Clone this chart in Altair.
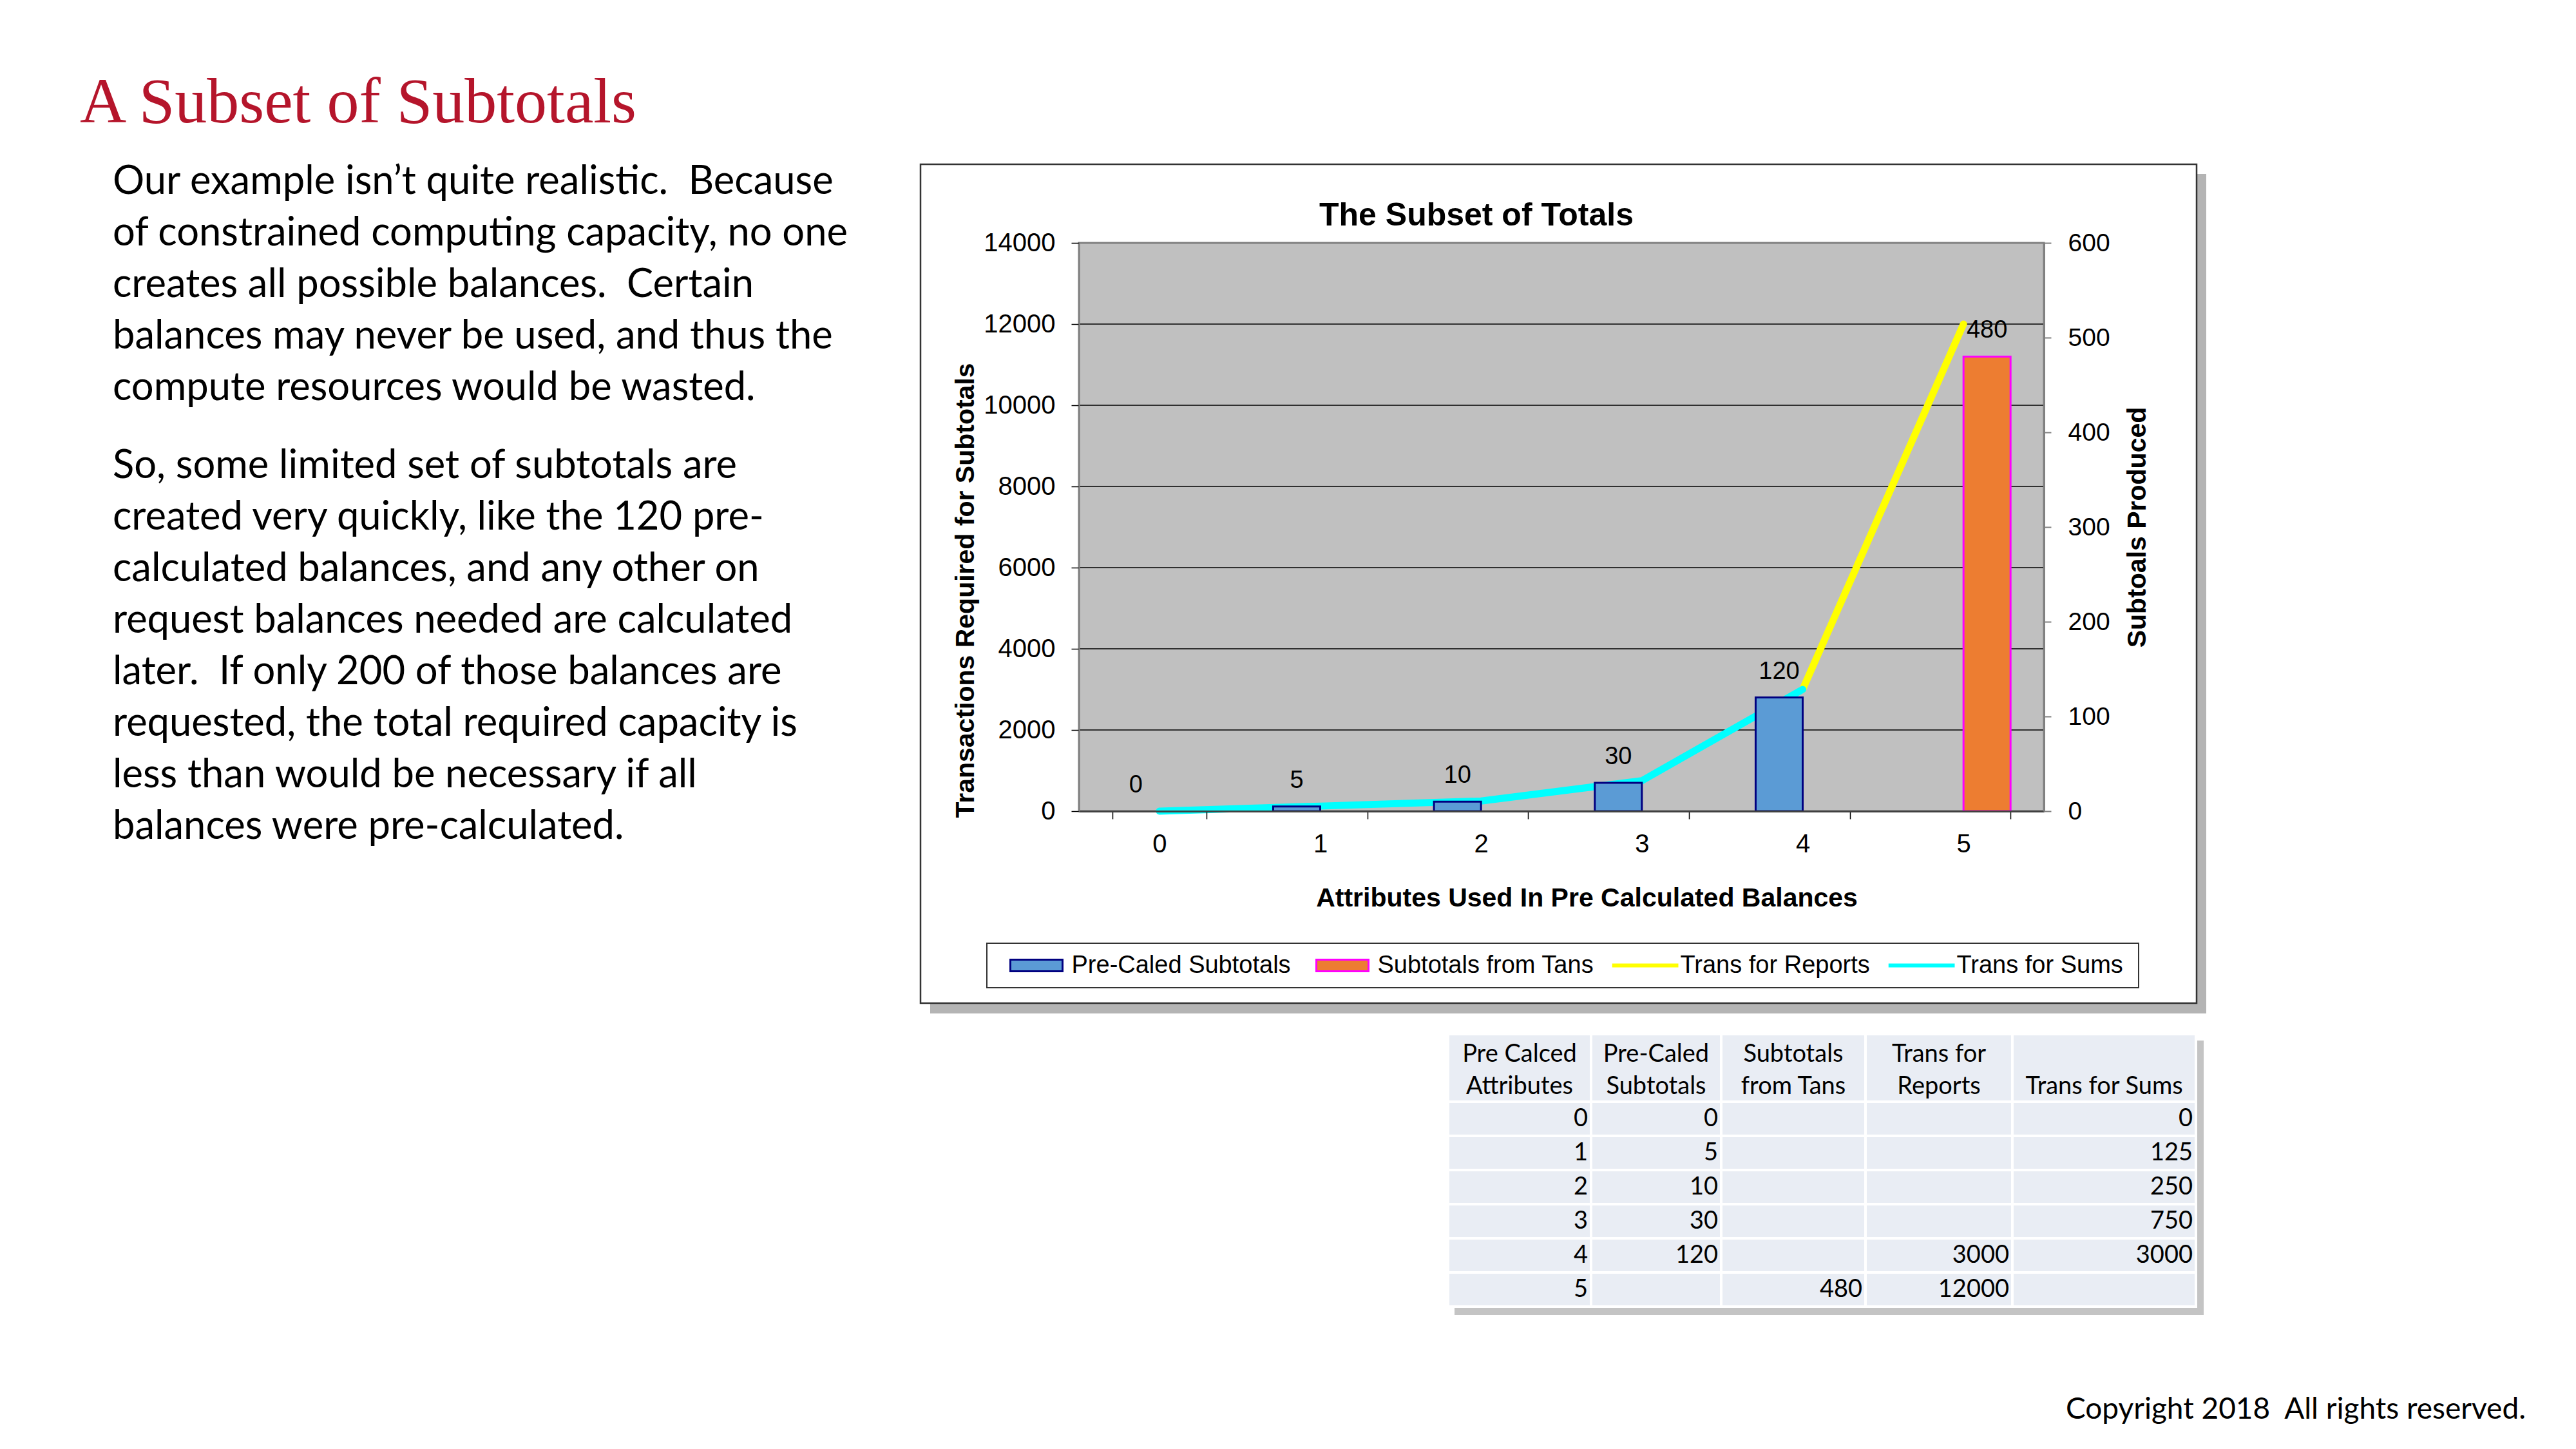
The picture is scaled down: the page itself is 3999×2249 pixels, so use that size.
import altair as alt
import pandas as pd

ARIAL = "Liberation Sans"
BODY = "Lato"
SERIF = "Liberation Serif"

# ---------------- data ----------------
categories = [0, 1, 2, 3, 4, 5]
pre_caled_subtotals = [0, 5, 10, 30, 120, None]
subtotals_from_tans = [None, None, None, None, None, 480]
trans_for_reports = [None, None, None, None, 3000, 12000]
trans_for_sums = [0, 125, 250, 750, 3000, None]

series_names = ["Pre-Caled Subtotals", "Subtotals from Tans", "Trans for Reports", "Trans for Sums"]
fill_colors = ["#5B9BD5", "#ED7D31", "#FFFF00", "#00FFFF"]
stroke_colors = ["#000080", "#FF00FF", "#FFFF00", "#00FFFF"]

left_ticks = [0, 2000, 4000, 6000, 8000, 10000, 12000, 14000]
right_ticks = [0, 100, 200, 300, 400, 500, 600]

table_headers = ["Pre Calced\nAttributes", "Pre-Caled\nSubtotals", "Subtotals\nfrom Tans",
                 "Trans for\nReports", "\nTrans for Sums"]
table_columns = [categories, pre_caled_subtotals, subtotals_from_tans, trans_for_reports, trans_for_sums]

slide_title = "A Subset of Subtotals"
chart_title = "The Subset of Totals"
para1 = ["Our example isn\u2019t quite realistic.\u00a0 Because",
         "of constrained computing capacity, no one",
         "creates all possible balances.\u00a0 Certain",
         "balances may never be used, and thus the",
         "compute resources would be wasted."]
para2 = ["So, some limited set of subtotals are",
         "created very quickly, like the 120 pre-",
         "calculated balances, and any other on",
         "request balances needed are calculated",
         "later.\u00a0 If only 200 of those balances are",
         "requested, the total required capacity is",
         "less than would be necessary if all",
         "balances were pre-calculated."]
copyright_text = "Copyright 2018\u00a0 All rights reserved."


def long_rows(name, values):
    return [{"cat": c, "series": name, "value": v}
            for c, v in zip(categories, values) if v is not None]


bar_df = pd.DataFrame(long_rows(series_names[0], pre_caled_subtotals)
                      + long_rows(series_names[1], subtotals_from_tans))
line_df = pd.DataFrame(long_rows(series_names[2], trans_for_reports)
                       + long_rows(series_names[3], trans_for_sums))
legend_df = pd.DataFrame({"series": series_names})
grid_df = pd.DataFrame({"tick": left_ticks})

cell_rows = []
for c, head in enumerate(table_headers):
    cell_rows.append({"col": c, "row": 0, "label": head, "kind": "head"})
    for r, v in enumerate(table_columns[c]):
        cell_rows.append({"col": c, "row": r + 1,
                          "label": "" if v is None else str(int(v)), "kind": "num"})
cell_df = pd.DataFrame(cell_rows)
one = pd.DataFrame({"k": [0]})

# ---------------- scales & axes ----------------
x_scale = alt.Scale(type="band", domain=categories, paddingInner=0.415, paddingOuter=0.2075)
xoff_scale = alt.Scale(domain=series_names[:2], paddingInner=0, paddingOuter=0)
left_scale = alt.Scale(domain=[0, 14000], nice=False)
right_scale = alt.Scale(domain=[0, 600], nice=False)
color_scale = alt.Scale(domain=series_names, range=fill_colors)
fill_scale = alt.Scale(domain=series_names, range=fill_colors)
stroke_scale = alt.Scale(domain=series_names, range=stroke_colors)
bar_path = "M-0.81,-0.18H0.81V0.18H-0.81Z"
line_path = "M-1,-0.03H1V0.03H-1Z"
shape_scale = alt.Scale(domain=series_names, range=[bar_path, bar_path, line_path, line_path])

x_axis = alt.Axis(title="Attributes Used In Pre Calculated Balances", labelAngle=0, tickBand="extent",
                  tickSize=12, tickColor="#000000", tickWidth=1.5, domainColor="#404040", domainWidth=3,
                  labelFont=ARIAL, labelFontSize=40, labelColor="#000000", labelPadding=19,
                  titleFont=ARIAL, titleFontSize=41, titleFontWeight="bold", titleColor="#000000",
                  titleX=788, titleY=147, titleAlign="center", titleBaseline="alphabetic",
                  grid=False, zindex=1)
left_axis = alt.Axis(orient="left", values=left_ticks, format="d", title="Transactions Required for Subtotals",
                     grid=False, tickSize=12, tickColor="#000000",
                     tickWidth=1.5, domainColor="#808080", domainWidth=2,
                     labelFont=ARIAL, labelFontSize=40, labelColor="#000000", labelPadding=25,
                     titleFont=ARIAL, titleFontSize=41, titleFontWeight="bold", titleColor="#000000",
                     titleAngle=270, titleX=-164, titleY=539, titleAlign="center", titleBaseline="alphabetic",
                     zindex=1)
right_axis = alt.Axis(orient="right", values=right_ticks, format="d", title="Subtoals Produced", grid=False,
                      tickSize=11, tickColor="#808080", tickWidth=2, domainColor="#808080", domainWidth=3,
                      labelFont=ARIAL, labelFontSize=39, labelColor="#000000", labelPadding=26,
                      titleFont=ARIAL, titleFontSize=41, titleFontWeight="bold", titleColor="#000000",
                      titleAngle=270, titleX=157, titleY=441, titleAlign="center", titleBaseline="alphabetic",
                      zindex=1)

# ---------------- main chart ----------------
bars = alt.Chart(bar_df).transform_filter("datum.value > 0").mark_bar(strokeWidth=3).encode(
    x=alt.X("cat:O", scale=x_scale, axis=x_axis),
    xOffset=alt.XOffset("series:N", scale=xoff_scale),
    y=alt.Y("value:Q", scale=right_scale, axis=right_axis),
    color=alt.Color("series:N", scale=color_scale, legend=None),
    stroke=alt.when(alt.datum.series == series_names[0]).then(alt.value(stroke_colors[0]))
              .otherwise(alt.value(stroke_colors[1])),
)
bar_labels = alt.Chart(bar_df).mark_text(font=ARIAL, fontSize=38, color="#000000",
                                          baseline="alphabetic", dy=-29).encode(
    x=alt.X("cat:O", scale=x_scale, axis=x_axis),
    xOffset=alt.XOffset("series:N", scale=xoff_scale),
    y=alt.Y("value:Q", scale=right_scale, axis=right_axis),
    text=alt.Text("value:Q", format="d"),
)
grid_rules = alt.Chart(grid_df).transform_filter("datum.tick > 0 && datum.tick < 14000").mark_rule(
    color="#303030", strokeWidth=1.8).encode(
    y=alt.Y("tick:Q", scale=left_scale, axis=left_axis),
    x=alt.value(0), x2=alt.value(1498),
)
lines = alt.Chart(line_df).mark_line(strokeWidth=11, strokeCap="round", strokeJoin="round").encode(
    x=alt.X("cat:O", scale=x_scale, axis=x_axis),
    y=alt.Y("value:Q", scale=left_scale, axis=left_axis),
    color=alt.Color("series:N", scale=color_scale, legend=None),
)
leg = alt.Legend(title=None, orient="none", legendX=-117.5, legendY=1101.5, direction="horizontal",
                 labelFont=ARIAL, labelFontSize=38, labelColor="#000000", labelOffset=3, labelLimit=2000,
                 columnPadding=28, padding=0, symbolSize=10000, symbolStrokeWidth=3, clipHeight=40,
                 symbolOpacity=1)
legend_layer = alt.Chart(legend_df).mark_point(filled=True, opacity=0, size=10000, strokeWidth=3).encode(
    fill=alt.Fill("series:N", scale=fill_scale, legend=leg),
    stroke=alt.Stroke("series:N", scale=stroke_scale, legend=leg),
    shape=alt.Shape("series:N", scale=shape_scale, legend=leg),
)
main = alt.layer(
    legend_layer,
    alt.layer(grid_rules, lines),
    alt.layer(bars, bar_labels),
).resolve_scale(y="independent")

# ---------------- table ----------------
tx = alt.Scale(domain=[0, 1, 2, 3, 4, 5], range=[573, 795, 997, 1221, 1449, 1734], zero=False, nice=False)
ty = alt.Scale(domain=[0, 1, 7], range=[1228, 1333, 1651], zero=False, nice=False)
base_t = alt.Chart(cell_df).transform_calculate(
    col2="datum.col + 1", colc="datum.col + 0.5", row2="datum.row + 1", rowc="datum.row + 0.5")
cells = base_t.mark_rect(fill="#E9EDF4", stroke="#FFFFFF", strokeWidth=4).encode(
    x=alt.X("col:Q", scale=tx, axis=None), x2="col2:Q",
    y=alt.Y("row:Q", scale=ty, axis=None), y2="row2:Q")
nums = base_t.transform_filter("datum.kind == 'num'").mark_text(
    font=BODY, fontSize=38, align="right", baseline="middle", dx=-5, color="#000000").encode(
    x=alt.X("col2:Q", scale=tx, axis=None), y=alt.Y("rowc:Q", scale=ty, axis=None), text="label:N")
heads = base_t.transform_filter("datum.kind == 'head'").mark_text(
    font=BODY, fontSize=38, align="center", baseline="alphabetic", dy=43, lineBreak="\n", lineHeight=50,
    color="#000000").encode(
    x=alt.X("colc:Q", scale=tx, axis=None), y=alt.Y("row:Q", scale=ty, axis=None), text="label:N")
table = alt.layer(cells, nums, heads)


# ---------------- decoration ----------------
def rect(x1, x2, y1, y2, **mark):
    return alt.Chart(one).mark_rect(**mark).encode(
        x=alt.value(x1), x2=alt.value(x2), y=alt.value(y1), y2=alt.value(y2))


def label(text, x, y, **mark):
    return alt.Chart(pd.DataFrame({"t": [text]})).mark_text(**mark).encode(
        text="t:N", x=alt.value(x), y=alt.value(y))


frame_shadow_r = rect(1735, 1750, -107, 1196, fill="#B4B4B4")
frame_shadow_b = rect(-231, 1750, 1180, 1196, fill="#B4B4B4")
frame = rect(-246, 1735, -122, 1180, fill="transparent", stroke="#333333", strokeWidth=2.5)
legend_box = rect(-143, 1645, 1087, 1156, fill="transparent", stroke="#333333", strokeWidth=2)
plot_bg = rect(0, 1498, 0, 882, fill="#C0C0C0", stroke="#808080", strokeWidth=3)
table_shadow_r = rect(1734, 1746, 1238, 1664, fill="#C4C4C4")
table_shadow_b = rect(583, 1746, 1651, 1664, fill="#C4C4C4")

t_slide = label(slide_title, -1551, -187, font=SERIF, fontSize=100, color="#B5152B",
                align="left", baseline="alphabetic")
t_p1 = label("\n".join(para1), -1500, -76, font=BODY, fontSize=61.5, color="#000000",
             align="left", baseline="alphabetic", lineBreak="\n", lineHeight=80)
t_p2 = label("\n".join(para2), -1500, 365, font=BODY, fontSize=61.5, color="#000000",
             align="left", baseline="alphabetic", lineBreak="\n", lineHeight=80)
t_chart = label(chart_title, 617, -27, font=ARIAL, fontSize=50, fontWeight="bold", color="#000000",
                align="center", baseline="alphabetic")
t_copy = label(copyright_text, 2246, 1825, font=BODY, fontSize=46, color="#000000",
               align="right", baseline="alphabetic")

chart = alt.layer(
    frame_shadow_r, frame_shadow_b, frame, legend_box, plot_bg, main,
    table_shadow_r, table_shadow_b, table,
    t_slide, t_p1, t_p2, t_chart, t_copy,
).resolve_scale(x="independent", y="independent").properties(
    width=1498, height=882,
    padding={"left": 1667, "top": 369, "right": 810, "bottom": 964},
    autosize=alt.AutoSizeParams(type="none"),
).configure(background="white").configure_view(strokeWidth=0)

chart.save("out.html", embed_options={"renderer": "svg", "actions": False})
